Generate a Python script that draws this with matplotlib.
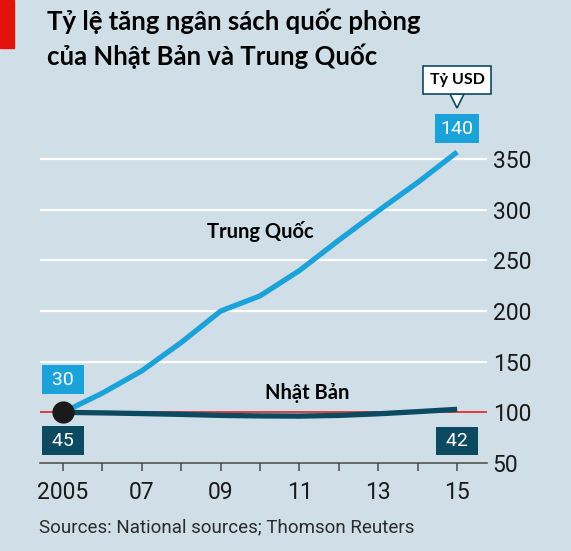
import matplotlib
matplotlib.use("Agg")
import matplotlib.pyplot as plt
import matplotlib.transforms as mtransforms
from matplotlib.patches import Rectangle

# index, 2005 = 100
years = [2005, 2006, 2007, 2008, 2009, 2010, 2011, 2012, 2013, 2014, 2015]
china = [100, 119, 141, 169, 200, 215, 240, 270, 299, 327, 357]
japan = [100, 99.5, 98.8, 98, 97, 96.5, 96.3, 97, 98.6, 100.7, 103]
yticks = [50, 100, 150, 200, 250, 300, 350]
xlabels = {2005: "2005", 2007: "07", 2009: "09", 2011: "11", 2013: "13", 2015: "15"}

# spending in $bn at start/end
china_start, china_end = 30, 140
japan_start, japan_end = 45, 42

title_lines = ["Tỷ lệ tăng ngân sách quốc phòng", "của Nhật Bản và Trung Quốc"]
source = "Sources: National sources; Thomson Reuters"

BG = "#cfdee7"
CN = "#1ba2d9"
JP = "#0c4a62"
RED = "#e3120b"
TXT = "#1a1a1a"
NUM = ["Roboto", "DejaVu Sans"]
BOLD = ["Lato", "Open Sans", "DejaVu Sans"]

fig = plt.figure(figsize=(5.71, 5.51), dpi=100, facecolor=BG)
ax = fig.add_axes([0.070, 0.1597, 0.783, 0.625])
ax.set_facecolor(BG)
ax.set_xlim(2004.416, 2015.76)
ax.set_ylim(50, 390)

# gridlines (white) and red baseline at 100
for v in yticks[2:]:
    ax.axhline(v, color="white", lw=1.6, zorder=1)
ax.axhline(100, color=RED, lw=1.1, zorder=1)

ax.plot(years, japan, color=JP, lw=3.8, solid_capstyle="butt", zorder=3)
ax.plot(years, china, color=CN, lw=3.8, solid_capstyle="butt", zorder=3)
ax.plot(years[0], china[0], "o", ms=15, color="#1a1a1a", zorder=5, clip_on=False)

for s in ["top", "left", "right"]:
    ax.spines[s].set_visible(False)
ax.spines["bottom"].set_color("#555555")
ax.spines["bottom"].set_linewidth(1.2)

ax.set_xticks(years)
ax.set_xticklabels([xlabels.get(y, "") for y in years], fontsize=16.5,
                   family=NUM, color=TXT)
ax.tick_params(axis="x", length=6, width=1.2, color="#555555", pad=7)

ax.yaxis.tick_right()
ax.set_yticks(yticks)
ax.set_yticklabels([str(v) for v in yticks], fontsize=16.5, family=NUM, color=TXT)
ax.tick_params(axis="y", length=0, pad=4)

# value boxes
def box(x, y, txt, color, dy):
    ax.annotate(txt, (x, y), xytext=(0, dy), textcoords="offset points",
                ha="center", va="center", fontsize=14, family=NUM, color="white",
                bbox=dict(boxstyle="square,pad=0.28", fc=color, ec="none"),
                zorder=6, annotation_clip=False)

box(years[0], china[0], f" {china_start} ", CN, 23.4)
box(years[0], japan[0], f" {japan_start} ", JP, -20.5)
box(years[-1], china[-1], f"{china_end}", CN, 16.7)
box(years[-1], japan[-1], f" {japan_end} ", JP, -22.8)

# "Tỷ USD" callout with pointer
ptr = mtransforms.offset_copy(ax.transData, fig=fig, x=0, y=37, units="points")
ax.plot(years[-1], china[-1], marker="v", ms=10, mfc="white", mec=JP, mew=1.2,
        transform=ptr, clip_on=False, zorder=7)
ax.annotate("Tỷ USD", (years[-1], china[-1]), xytext=(0, 52), textcoords="offset points",
            ha="center", va="center", fontsize=11.5, fontweight="bold", family=BOLD,
            color="black", bbox=dict(boxstyle="square,pad=0.42", fc="white", ec=JP, lw=1.2),
            zorder=8, annotation_clip=False)

# series names
ax.text(2010.0, 279, "Trung Quốc", ha="center", va="center", fontsize=14.5,
        fontweight="bold", family=BOLD, color="black")
ax.text(2011.2, 119, "Nhật Bản", ha="center", va="center", fontsize=14.5,
        fontweight="bold", family=BOLD, color="black")

# title, red tag, source
fig.patches.append(Rectangle((0, 1 - 48 / 551), 14 / 571, 48 / 551,
                             transform=fig.transFigure, color=RED))
fig.text(47 / 571, 1 - 30 / 551, title_lines[0], ha="left", va="baseline",
         fontsize=18.5, fontweight="bold", family=BOLD, color="black")
fig.text(47 / 571, 1 - 65 / 551, title_lines[1], ha="left", va="baseline",
         fontsize=18.5, fontweight="bold", family=BOLD, color="black")
fig.text(39 / 571, 1 - 527 / 551, source, ha="left", va="center",
         fontsize=13.5, family=NUM, color="#2b2b2b")

fig.savefig("out.png", dpi=100, facecolor=BG)
